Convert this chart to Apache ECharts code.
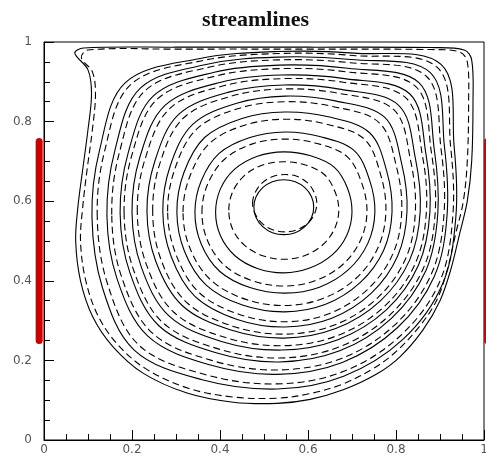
<!DOCTYPE html>
<html><head><meta charset="utf-8">
<script src="https://cdn.jsdelivr.net/npm/echarts@6/dist/echarts.min.js"></script>
<style>html,body{margin:0;padding:0;background:#fff;}#c{width:486px;height:460px;}</style>
</head><body><div id="c"></div>
<script>
const titleText = 'streamlines';
const xTickLabels = ['0','0.2','0.4','0.6','0.8','1'];
const yTickLabels = ['0','0.2','0.4','0.6','0.8','1'];

// solid streamlines (x, y), clockwise
const solid01 = [[0.477,0.585],[0.482,0.611],[0.497,0.634],[0.519,0.649],[0.545,0.654],[0.571,0.649],[0.593,0.634],[0.608,0.611],[0.613,0.585],[0.608,0.559],[0.593,0.536],[0.571,0.521],[0.545,0.516],[0.519,0.521],[0.497,0.536],[0.482,0.559]];
const solid02 = [[0.39,0.572],[0.401,0.631],[0.434,0.681],[0.485,0.713],[0.545,0.724],[0.606,0.714],[0.66,0.685],[0.69,0.632],[0.70,0.572],[0.688,0.514],[0.655,0.465],[0.604,0.432],[0.545,0.42],[0.485,0.431],[0.434,0.463],[0.401,0.513]];
const solid03 = [[0.343,0.572],[0.357,0.65],[0.398,0.72],[0.468,0.76],[0.548,0.774],[0.629,0.762],[0.705,0.727],[0.74,0.653],[0.752,0.572],[0.736,0.494],[0.692,0.428],[0.626,0.384],[0.548,0.369],[0.468,0.383],[0.399,0.424],[0.357,0.493]];
const solid04 = [[0.302,0.573],[0.318,0.672],[0.365,0.76],[0.45,0.808],[0.547,0.824],[0.646,0.812],[0.74,0.772],[0.779,0.675],[0.791,0.573],[0.772,0.477],[0.719,0.396],[0.64,0.341],[0.547,0.322],[0.451,0.339],[0.368,0.39],[0.319,0.475]];
const solid05 = [[0.27,0.574],[0.287,0.689],[0.338,0.793],[0.438,0.846],[0.548,0.864],[0.662,0.852],[0.774,0.811],[0.813,0.694],[0.825,0.574],[0.804,0.463],[0.744,0.369],[0.654,0.306],[0.548,0.284],[0.439,0.303],[0.343,0.361],[0.289,0.461]];
const solid06 = [[0.234,0.574],[0.252,0.701],[0.306,0.818],[0.42,0.874],[0.545,0.892],[0.675,0.881],[0.806,0.841],[0.844,0.708],[0.855,0.574],[0.831,0.452],[0.764,0.349],[0.663,0.28],[0.545,0.256],[0.423,0.277],[0.314,0.338],[0.254,0.449]];
const solid07 = [[0.2,0.572],[0.218,0.711],[0.275,0.841],[0.402,0.899],[0.54,0.917],[0.683,0.908],[0.831,0.87],[0.868,0.719],[0.877,0.572],[0.851,0.439],[0.778,0.327],[0.668,0.252],[0.54,0.226],[0.405,0.247],[0.284,0.312],[0.221,0.435]];
const solid08 = [[0.173,0.569],[0.191,0.72],[0.248,0.864],[0.387,0.924],[0.534,0.942],[0.69,0.934],[0.852,0.898],[0.887,0.73],[0.895,0.569],[0.868,0.426],[0.789,0.305],[0.672,0.224],[0.534,0.196],[0.391,0.219],[0.261,0.287],[0.195,0.421]];
const solid09 = [[0.143,0.564],[0.161,0.727],[0.219,0.884],[0.371,0.944],[0.53,0.962],[0.698,0.956],[0.878,0.923],[0.91,0.738],[0.916,0.564],[0.887,0.411],[0.803,0.282],[0.678,0.195],[0.53,0.165],[0.376,0.189],[0.236,0.261],[0.166,0.405]];
const solid10 = [[0.109,0.56],[0.126,0.727],[0.185,0.898],[0.352,0.958],[0.53,0.976],[0.705,0.972],[0.903,0.943],[0.932,0.739],[0.936,0.56],[0.905,0.39],[0.815,0.252],[0.681,0.16],[0.53,0.128],[0.357,0.152],[0.205,0.226],[0.133,0.382]];
const solid11 = [[0.072,0.5],[0.077,0.585],[0.088,0.68],[0.1,0.78],[0.108,0.87],[0.1,0.93],[0.07,0.972],[0.09,0.985],[0.3,0.987],[0.6,0.987],[0.88,0.986],[0.955,0.98],[0.972,0.955],[0.975,0.85],[0.972,0.7],[0.962,0.6],[0.945,0.52],[0.925,0.43],[0.9,0.35],[0.861,0.276],[0.809,0.209],[0.755,0.165],[0.68,0.126],[0.605,0.102],[0.53,0.092],[0.43,0.095],[0.325,0.118],[0.225,0.168],[0.157,0.234],[0.111,0.309],[0.083,0.4]];

// dashed streamlines (x, y), clockwise
const dashed01 = [[0.474,0.595],[0.48,0.622],[0.496,0.646],[0.52,0.662],[0.548,0.667],[0.576,0.662],[0.6,0.645],[0.615,0.62],[0.62,0.594],[0.614,0.566],[0.598,0.543],[0.574,0.528],[0.548,0.523],[0.52,0.528],[0.497,0.543],[0.48,0.568]];
const dashed02 = [[0.42,0.577],[0.429,0.624],[0.456,0.665],[0.497,0.691],[0.545,0.699],[0.594,0.691],[0.637,0.667],[0.661,0.625],[0.67,0.577],[0.66,0.53],[0.633,0.49],[0.592,0.463],[0.545,0.454],[0.497,0.463],[0.456,0.489],[0.429,0.529]];
const dashed03 = [[0.359,0.572],[0.372,0.643],[0.411,0.706],[0.474,0.744],[0.547,0.756],[0.621,0.745],[0.689,0.712],[0.722,0.646],[0.734,0.572],[0.719,0.501],[0.679,0.441],[0.618,0.401],[0.547,0.387],[0.474,0.4],[0.411,0.438],[0.372,0.5]];
const dashed04 = [[0.316,0.573],[0.332,0.664],[0.377,0.746],[0.456,0.791],[0.547,0.806],[0.64,0.794],[0.728,0.756],[0.765,0.667],[0.777,0.573],[0.759,0.483],[0.71,0.407],[0.635,0.356],[0.547,0.338],[0.457,0.354],[0.379,0.402],[0.332,0.481]];
const dashed05 = [[0.281,0.574],[0.298,0.683],[0.347,0.781],[0.442,0.833],[0.548,0.85],[0.656,0.838],[0.762,0.797],[0.801,0.687],[0.813,0.574],[0.793,0.468],[0.735,0.378],[0.649,0.318],[0.548,0.297],[0.443,0.316],[0.352,0.371],[0.3,0.466]];
const dashed06 = [[0.247,0.574],[0.264,0.697],[0.317,0.809],[0.426,0.864],[0.546,0.882],[0.67,0.871],[0.795,0.83],[0.833,0.703],[0.844,0.574],[0.822,0.456],[0.757,0.356],[0.66,0.289],[0.546,0.266],[0.429,0.286],[0.324,0.346],[0.266,0.453]];
const dashed07 = [[0.212,0.573],[0.23,0.707],[0.286,0.833],[0.408,0.89],[0.542,0.908],[0.68,0.899],[0.822,0.86],[0.86,0.715],[0.869,0.573],[0.844,0.444],[0.773,0.335],[0.666,0.262],[0.542,0.237],[0.411,0.258],[0.295,0.321],[0.233,0.44]];
const dashed08 = [[0.182,0.57],[0.2,0.717],[0.257,0.856],[0.392,0.915],[0.536,0.933],[0.688,0.925],[0.845,0.888],[0.88,0.726],[0.889,0.57],[0.862,0.431],[0.785,0.313],[0.671,0.234],[0.536,0.206],[0.396,0.229],[0.269,0.296],[0.204,0.426]];
const dashed09 = [[0.154,0.566],[0.172,0.725],[0.229,0.877],[0.377,0.937],[0.531,0.955],[0.695,0.948],[0.869,0.914],[0.902,0.735],[0.909,0.566],[0.88,0.416],[0.798,0.29],[0.676,0.205],[0.531,0.176],[0.381,0.2],[0.245,0.27],[0.176,0.411]];
const dashed10 = [[0.121,0.561],[0.138,0.727],[0.197,0.893],[0.359,0.953],[0.53,0.971],[0.703,0.966],[0.894,0.936],[0.924,0.739],[0.929,0.561],[0.899,0.397],[0.811,0.263],[0.68,0.172],[0.53,0.141],[0.364,0.165],[0.216,0.238],[0.145,0.39]];
const dashed11 = [[0.083,0.5],[0.088,0.585],[0.098,0.68],[0.11,0.78],[0.117,0.87],[0.11,0.925],[0.085,0.96],[0.1,0.98],[0.3,0.982],[0.6,0.982],[0.88,0.981],[0.945,0.975],[0.962,0.95],[0.965,0.85],[0.962,0.7],[0.953,0.6],[0.936,0.52],[0.917,0.43],[0.892,0.35],[0.853,0.285],[0.8,0.222],[0.746,0.178],[0.675,0.139],[0.602,0.116],[0.53,0.105],[0.43,0.108],[0.328,0.13],[0.23,0.18],[0.165,0.243],[0.121,0.316],[0.094,0.405]];

// red wall segments
const leftBar = [[-0.011,0.25],[-0.011,0.75]];
const rightBar = [[1.008,0.25],[1.008,0.75]];

const solidLines = [solid01,solid02,solid03,solid04,solid05,solid06,solid07,solid08,solid09,solid10,solid11];
const dashedLines = [dashed01,dashed02,dashed03,dashed04,dashed05,dashed06,dashed07,dashed08,dashed09,dashed10,dashed11];

function contour(pts, dashed) {
  return {
    type: 'custom',
    coordinateSystem: 'cartesian2d',
    silent: true,
    z: 3,
    data: [pts[0]],
    renderItem: function (params, api) {
      return {
        type: 'polygon',
        shape: { points: pts.map(function (p) { return api.coord(p); }), smooth: 0.35 },
        style: { fill: 'none', stroke: '#000', lineWidth: 1.1, lineDash: dashed ? [7, 4] : null }
      };
    }
  };
}

function wallBar(pts) {
  return {
    type: 'custom',
    coordinateSystem: 'cartesian2d',
    silent: true,
    z: 10,
    data: [pts[0]],
    renderItem: function (params, api) {
      return {
        type: 'polyline',
        shape: { points: pts.map(function (p) { return api.coord(p); }) },
        style: { fill: 'none', stroke: '#cc0000', lineWidth: 7, lineCap: 'round' }
      };
    }
  };
}

const series = [];
solidLines.forEach(function (p) { series.push(contour(p, false)); });
dashedLines.forEach(function (p) { series.push(contour(p, true)); });
series.push(wallBar(leftBar));
series.push(wallBar(rightBar));

const labelStyle = { color: '#555', fontSize: 12, fontFamily: 'DejaVu Sans' };
const chart = echarts.init(document.getElementById('c'), null, { renderer: 'canvas' });
chart.setOption({
  animation: false,
  backgroundColor: '#fff',
  title: { text: titleText, left: 197, top: 4,
    textStyle: { fontFamily: 'Liberation Serif', fontWeight: 'bold', fontSize: 22, color: '#111' } },
  grid: { left: 44, right: 2, top: 42, bottom: 20, containLabel: false, outerBoundsMode: 'none',
    show: true, borderColor: '#000', borderWidth: 1, backgroundColor: 'transparent' },
  xAxis: { type: 'value', min: 0, max: 1, interval: 0.2,
    axisLine: { lineStyle: { color: '#000', width: 1 } },
    axisTick: { inside: true, length: 10, lineStyle: { color: '#000' } },
    minorTick: { show: true, splitNumber: 4, length: 6, lineStyle: { color: '#000' } },
    splitLine: { show: false },
    axisLabel: Object.assign({ margin: 4, hideOverlap: false, formatter: function (v) { return xTickLabels[Math.round(v / 0.2)]; } }, labelStyle) },
  yAxis: { type: 'value', min: 0, max: 1, interval: 0.2,
    axisLine: { lineStyle: { color: '#000', width: 1 } },
    axisTick: { inside: true, length: 10, lineStyle: { color: '#000' } },
    minorTick: { show: true, splitNumber: 4, length: 6, lineStyle: { color: '#000' } },
    splitLine: { show: false },
    axisLabel: Object.assign({ margin: 12, formatter: function (v) { return yTickLabels[Math.round(v / 0.2)]; } }, labelStyle) },
  series: series
});
</script></body></html>
